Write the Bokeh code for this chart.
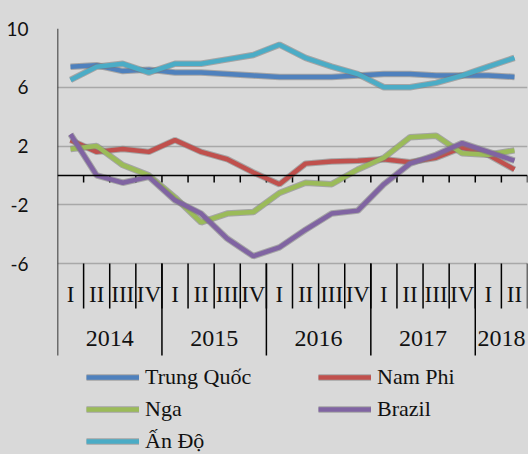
from bokeh.plotting import figure
from bokeh.models import Range1d, FixedTicker, Legend, LegendItem, Span, GlobalInlineStyleSheet
from bokeh.core.properties import value
from bokeh.embed import file_html
from bokeh.resources import INLINE

# ---------------- data ----------------
years = ["2014", "2015", "2016", "2017", "2018"]
year_sizes = [4, 4, 4, 4, 2]
quarters = ["I", "II", "III", "IV"] * 4 + ["I", "II"]
y_ticks = [-6, -2, 2, 6, 10]

trung_quoc = [7.4, 7.5, 7.1, 7.2, 7.0, 7.0, 6.9, 6.8, 6.7, 6.7, 6.7, 6.8, 6.9, 6.9, 6.8, 6.8, 6.8, 6.7]
nam_phi = [2.4, 1.6, 1.8, 1.6, 2.4, 1.6, 1.1, 0.2, -0.6, 0.8, 0.95, 1.0, 1.1, 0.9, 1.2, 1.9, 1.4, 0.4]
nga = [1.8, 2.0, 0.7, 0.0, -1.5, -3.2, -2.6, -2.5, -1.2, -0.5, -0.6, 0.4, 1.2, 2.6, 2.7, 1.5, 1.4, 1.7]
brazil = [2.8, 0.0, -0.5, -0.1, -1.7, -2.6, -4.3, -5.5, -4.9, -3.7, -2.6, -2.4, -0.6, 0.8, 1.4, 2.2, 1.6, 1.0]
an_do = [6.5, 7.4, 7.6, 7.0, 7.6, 7.6, 7.9, 8.2, 8.9, 8.0, 7.4, 6.9, 6.0, 6.0, 6.3, 6.8, 7.4, 8.0]

series = [
    ("Trung Quốc", trung_quoc, "#4f81bd"),
    ("Nam Phi", nam_phi, "#c0504d"),
    ("Nga", nga, "#9bbb59"),
    ("Brazil", brazil, "#8064a2"),
    ("Ấn Độ", an_do, "#4bacc6"),
]

# ---------------- layout constants ----------------
BG = "#d9d9d9"
W, H = 528, 454
LEFT, RIGHT, TOP = 57, 1, 28
y_max, y_min_val = 10, -6
px_per_unit = 235 / 16.0
frame_h = H - TOP
y_bottom = y_max - frame_h / px_per_unit
axis_bottom = y_min_val - 92 / px_per_unit      # bottom of year separators
quarter_sep_bottom = y_min_val - 45 / px_per_unit
quarter_label_y = y_min_val - 31 / px_per_unit
year_label_y = y_min_val - 75 / px_per_unit
tick_len = 7 / px_per_unit

n = len(quarters)
centers = [i + 0.5 for i in range(n)]

p = figure(width=W, height=H, output_backend="svg", toolbar_location=None,
           x_range=Range1d(0, n), y_range=Range1d(y_bottom, y_max),
           min_border_left=LEFT, min_border_right=RIGHT, min_border_top=TOP,
           min_border_bottom=0, background_fill_color=BG, border_fill_color=BG,
           outline_line_color=None)
p.stylesheets = [GlobalInlineStyleSheet(css="html,body{background:#d9d9d9;overflow:hidden}")]

p.xaxis.visible = False
p.xgrid.visible = False
p.yaxis.ticker = FixedTicker(ticks=y_ticks)
p.yaxis.major_label_overrides = {t: str(t) for t in y_ticks}
p.yaxis.axis_line_color = None
p.yaxis.major_tick_line_color = None
p.yaxis.minor_tick_line_color = None
p.yaxis.major_label_standoff = 23
p.yaxis.major_label_text_font = "Lato"
p.yaxis.major_label_text_font_size = "19px"
p.yaxis.major_label_text_color = "#111111"
p.ygrid.ticker = FixedTicker(ticks=y_ticks)
p.ygrid.grid_line_color = "#a8a8a8"
p.ygrid.grid_line_width = 1.5

# vertical axis line (through the category label table)
p.segment(x0=[0], x1=[0], y0=[axis_bottom], y1=[y_max], line_color="black", line_width=1.5)
# zero line
p.add_layout(Span(location=0, dimension="width", line_color="black", line_width=1.5))
# ticks on zero line
ks = list(range(1, n + 1))
p.segment(x0=ks, x1=ks, y0=[0] * len(ks), y1=[-tick_len] * len(ks), line_color="black", line_width=1.5)

# quarter separators
p.segment(x0=ks, x1=ks, y0=[y_min_val] * len(ks), y1=[quarter_sep_bottom] * len(ks),
          line_color="black", line_width=1.5)
# year separators
bounds = []
acc = 0
for s in year_sizes[:-1]:
    acc += s
    bounds.append(acc)
p.segment(x0=bounds, x1=bounds, y0=[y_min_val] * len(bounds), y1=[axis_bottom] * len(bounds),
          line_color="black", line_width=1.5)

# quarter labels
p.text(x=centers, y=[quarter_label_y] * n, text=quarters, text_align="center",
       text_baseline="middle", text_font=value("Liberation Serif"), text_font_size="23px",
       text_color="#111111")
# year labels
year_centers = []
acc = 0
for s in year_sizes:
    year_centers.append(acc + s / 2.0)
    acc += s
p.text(x=year_centers, y=[year_label_y] * len(years), text=years, text_align="center",
       text_baseline="middle", text_font=value("Liberation Serif"), text_font_size="24px",
       text_color="#111111")

items = []
for name, vals, color in series:
    r0 = p.line(centers, vals, line_color="#7a7a7a", line_width=6.5, line_alpha=0.55)
    r1 = p.line(centers, vals, line_color=color, line_width=4.5)
    items.append(LegendItem(label=name, renderers=[r0, r1]))

common = dict(padding=0, margin=0, spacing=0, border_line_color=None, background_fill_alpha=0,
              glyph_width=53, glyph_height=32, label_height=32, label_standoff=6,
              label_text_font="Liberation Serif", label_text_font_size="22px",
              label_text_color="#111111")
legend1 = Legend(items=[items[0], items[2], items[4]], location=(86 - LEFT, -3), **common)
legend2 = Legend(items=[items[1], items[3]], location=(318 - LEFT, 29), **common)
p.add_layout(legend1, "center")
p.add_layout(legend2, "center")

open("out.html", "w").write(file_html(p, INLINE))
